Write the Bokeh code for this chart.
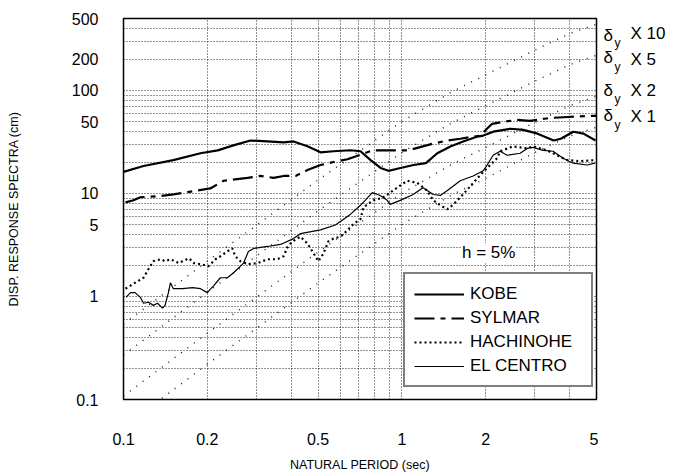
from bokeh.plotting import figure
from bokeh.layouts import row
from bokeh.models import FixedTicker, CustomJSTickFormatter, Legend, LegendItem, Label, Range1d
from bokeh.core.properties import value
from bokeh.embed import file_html
from bokeh.resources import INLINE

# ---------------- data ----------------
kobe_T = [0.100, 0.118, 0.151, 0.189, 0.218, 0.248, 0.286, 0.329, 0.376, 0.408, 0.458, 0.510,
          0.568, 0.654, 0.710, 0.772, 0.838, 0.895, 0.989, 1.10, 1.22, 1.34, 1.50, 1.66, 1.87,
          1.96, 2.13, 2.45, 2.73, 3.07, 3.51, 3.72, 4.13, 4.49, 4.96]
kobe_V = [16.2, 18.5, 21.1, 24.6, 26.2, 29.3, 32.7, 32.0, 31.3, 32.0, 28.7, 25.1,
          25.7, 26.3, 25.7, 21.1, 17.7, 16.6, 17.7, 18.9, 19.7, 24.6, 28.7, 32.0, 35.7,
          36.5, 39.8, 42.5, 41.5, 38.1, 32.7, 34.0, 39.8, 38.1, 32.7]

sylmar_T = [0.1017, 0.1086, 0.115, 0.1325, 0.151, 0.184, 0.205, 0.229, 0.279, 0.310, 0.346,
            0.376, 0.415, 0.458, 0.510, 0.568, 0.638, 0.783, 0.948, 1.05, 1.19, 1.30, 1.46,
            1.62, 1.91, 2.02, 2.11, 2.31, 2.59, 2.88, 3.06, 3.40, 3.94, 4.74, 5.0]
sylmar_V = [8.2, 8.6, 9.2, 9.4, 9.8, 10.7, 11.2, 13.3, 14.2, 14.8, 14.2,
            14.8, 14.8, 16.9, 18.9, 20.2, 21.5, 26.2, 26.2, 26.2, 28.7, 30.6, 32.7,
            34.0, 36.5, 42.5, 47.5, 49.6, 51.8, 50.7, 51.8, 54.1, 55.3, 56.6, 56.6]

hachinohe_T = [0.1017, 0.1086, 0.118, 0.123, 0.128, 0.136, 0.141, 0.1475, 0.158, 0.163, 0.172,
               0.179, 0.189, 0.202, 0.214, 0.223, 0.236, 0.246, 0.252, 0.263, 0.281, 0.303,
               0.329, 0.357, 0.376, 0.389, 0.405, 0.432, 0.458, 0.482, 0.501, 0.523, 0.544,
               0.568, 0.602, 0.638, 0.670, 0.710, 0.728, 0.789, 0.857, 0.962, 1.045, 1.134,
               1.231, 1.296, 1.374, 1.457, 1.532, 1.620, 1.717, 1.910, 2.074, 2.198, 2.253,
               2.509, 2.818, 2.960, 3.324, 3.610, 3.922, 4.370, 4.940]
hachinohe_V = [1.19, 1.33, 1.52, 1.85, 2.20, 2.30, 2.20, 2.30, 2.11, 2.20, 2.35,
               2.11, 2.06, 1.97, 2.30, 2.46, 2.74, 2.93, 2.46, 2.20, 2.06, 2.11,
               2.30, 2.30, 2.46, 3.06, 3.42, 3.81, 3.27, 2.62, 2.20, 2.62, 3.42,
               3.65, 3.81, 4.40, 5.06, 5.65, 7.35, 8.58, 9.16, 11.4, 13.3, 12.7,
               10.7, 8.58, 7.68, 7.03, 7.85, 9.16, 10.9, 15.1, 18.9, 22.0, 25.7,
               28.7, 27.4, 28.7, 26.2, 23.5, 21.1, 20.6, 21.1]

elcentro_T = [0.102, 0.106, 0.110, 0.115, 0.118, 0.123, 0.128, 0.1325, 0.138, 0.141, 0.145,
              0.1475, 0.151, 0.163, 0.177, 0.189, 0.200, 0.2105, 0.223, 0.236, 0.248, 0.259,
              0.270, 0.281, 0.293, 0.329, 0.3665, 0.408, 0.432, 0.510, 0.577, 0.654, 0.710,
              0.783, 0.836, 0.885, 0.907, 0.986, 1.097, 1.191, 1.296, 1.374, 1.457, 1.620,
              1.802, 1.958, 2.024, 2.126, 2.253, 2.387, 2.659, 2.818, 2.960, 3.215, 3.492,
              3.793, 4.123, 4.630, 4.940]
elcentro_V = [0.98, 1.09, 1.09, 0.98, 0.86, 0.88, 0.82, 0.86, 0.77, 0.82, 1.09,
              1.36, 1.19, 1.19, 1.22, 1.19, 1.09, 1.27, 1.52, 1.52, 1.69, 1.89,
              2.11, 2.74, 2.93, 3.06, 3.20, 3.65, 4.07, 4.44, 4.95, 6.30, 7.68,
              10.2, 9.57, 8.58, 7.85, 8.58, 9.78, 11.4, 9.78, 9.57, 10.7, 13.3,
              14.8, 16.6, 18.9, 23.5, 25.7, 23.5, 24.6, 27.4, 28.0, 26.2, 25.7,
              22.0, 19.7, 18.9, 19.7]

# yield-displacement multiple lines (delta_y x 10, x 5, x 2, x 1)
dy_T = [0.1, 0.2, 0.5, 1.0, 1.5, 2.0, 3.0, 4.0, 5.0]
dy_x10 = [0.54, 2.2, 13.5, 50, 96, 142, 246, 357, 440]
dy_x5 = [0.27, 1.1, 6.8, 25, 48, 71, 123, 178, 220]
dy_x2 = [0.108, 0.44, 2.7, 10, 19, 28, 49, 71, 88]
dy_x1 = [0.054, 0.22, 1.35, 5, 9.6, 14, 25, 36, 44]
dy_labels = ["X 10", "X 5", "X 2", "X 1"]

series_names = ["KOBE", "SYLMAR", "HACHINOHE", "EL CENTRO"]

x_ticks = [0.1, 0.2, 0.5, 1, 2, 5]
x_tick_labels = ["0.1", "0.2", "0.5", "1", "2", "5"]
y_ticks = [0.1, 1, 5, 10, 50, 100, 200, 500]
y_tick_labels = ["0.1", "1", "5", "10", "50", "100", "200", "500"]
x_grid = [0.2, 0.3, 0.4, 0.5, 0.6, 0.7, 0.8, 0.9, 1, 2, 3, 4]
y_grid = [0.2, 0.3, 0.4, 0.5, 0.6, 0.7, 0.8, 0.9, 1, 2, 3, 4, 5, 6, 7, 8, 9,
          10, 20, 30, 40, 50, 60, 70, 80, 90, 100, 200, 300, 400]

FONT = "Liberation Sans"

p = figure(width=598, height=474, x_axis_type="log", y_axis_type="log",
           x_range=(0.1, 5), y_range=(0.1, 500), output_backend="svg",
           toolbar_location=None, min_border_left=123, min_border_right=2,
           min_border_top=18, min_border_bottom=72)
p.background_fill_color = "white"
p.border_fill_color = "white"
p.outline_line_color = "black"
p.outline_line_width = 1.5
p.outline_line_alpha = 1.0

fmt_code = """
for (let i = 0; i < tvals.length; i++) {
  if (Math.abs(Math.log(tick) - Math.log(tvals[i])) < 1e-6) return tlabels[i];
}
return "";
"""
p.xaxis.ticker = FixedTicker(ticks=x_ticks)
p.xaxis.formatter = CustomJSTickFormatter(args=dict(tvals=x_ticks, tlabels=x_tick_labels), code=fmt_code)
p.yaxis.ticker = FixedTicker(ticks=y_ticks)
p.yaxis.formatter = CustomJSTickFormatter(args=dict(tvals=y_ticks, tlabels=y_tick_labels), code=fmt_code)

for ax in (p.xaxis[0], p.yaxis[0]):
    ax.axis_line_color = None
    ax.major_tick_line_color = None
    ax.minor_tick_line_color = None
    ax.major_label_text_font = FONT
    ax.major_label_text_font_size = "16px"
    ax.major_label_text_color = "black"
    ax.axis_label_text_font = FONT
    ax.axis_label_text_font_size = "12.5px"
    ax.axis_label_text_font_style = "normal"
    ax.axis_label_text_color = "black"

p.xaxis.axis_label = "NATURAL PERIOD (sec)"
p.yaxis.axis_label = "DISP. RESPONSE SPECTRA (cm)"
p.xaxis.major_label_standoff = 27
p.xaxis.axis_label_standoff = 10
p.yaxis.major_label_standoff = 19
p.yaxis.axis_label_standoff = 48

p.xgrid.ticker = FixedTicker(ticks=x_grid)
p.ygrid.ticker = FixedTicker(ticks=y_grid)
for g in (p.xgrid[0], p.ygrid[0]):
    g.grid_line_color = "black"
    g.grid_line_alpha = 0.85
    g.grid_line_width = 1
    g.grid_line_dash = "1 2"

# delta_y lines
for vals in (dy_x10, dy_x5, dy_x2, dy_x1):
    p.line(dy_T, vals, line_color="black", line_width=1.4, line_dash="1 7", line_alpha=0.9)

r_kobe = p.line(kobe_T, kobe_V, line_color="black", line_width=2.2)
r_syl = p.line(sylmar_T, sylmar_V, line_color="black", line_width=2.2, line_dash="20 6 5 6")
r_hac = p.line(hachinohe_T, hachinohe_V, line_color="black", line_width=2.2, line_dash="2 3")
r_elc = p.line(elcentro_T, elcentro_V, line_color="black", line_width=1.2)

legend = Legend(items=[LegendItem(label=n, renderers=[r]) for n, r in
                       zip(series_names, [r_kobe, r_syl, r_hac, r_elc])],
                location=(280, 12), orientation="vertical")
legend.border_line_color = "black"
legend.border_line_width = 2
legend.background_fill_color = "white"
legend.background_fill_alpha = 1.0
legend.label_text_font = FONT
legend.label_text_font_size = "17px"
legend.label_text_color = "black"
legend.glyph_width = 50
legend.glyph_height = 20
legend.label_height = 21
legend.label_width = 112
legend.label_standoff = 6
legend.spacing = 3
legend.padding = 9
legend.margin = 0
p.add_layout(legend)

# h = 5% note
p.add_layout(Label(x=2.05, y=2.66, text="h = 5%", text_font=FONT, text_font_size="17px",
                   text_align="center", text_baseline="middle", background_fill_color="white",
                   text_color="black"))

# right-side delta_y labels, in a narrow companion panel (pixel-like coordinates, top-down)
q = figure(width=75, height=474, x_range=Range1d(0, 75), y_range=Range1d(474, 0),
           output_backend="svg", toolbar_location=None, min_border_left=0,
           min_border_right=0, min_border_top=0, min_border_bottom=0)
q.axis.visible = False
q.grid.visible = False
q.outline_line_color = None
q.background_fill_color = "white"
q.border_fill_color = "white"

delta_pos = [21, 49, 89, 121]
sub_pos = [31, 60, 100, 132]
mult_pos = [19, 51, 89, 122]
q.text(x=[5] * 4, y=delta_pos, text=["δ"] * 4, text_font=value(FONT),
       text_font_size="17px", text_align="left", text_baseline="middle", text_color="black")
q.text(x=[16] * 4, y=sub_pos, text=["y"] * 4, text_font=value(FONT),
       text_font_size="12px", text_align="left", text_baseline="middle", text_color="black")
q.text(x=[32] * 4, y=mult_pos, text=dy_labels, text_font=value(FONT),
       text_font_size="17px", text_align="left", text_baseline="middle", text_color="black")

layout = row(p, q, spacing=0)
open("out.html", "w").write(file_html(layout, INLINE))
